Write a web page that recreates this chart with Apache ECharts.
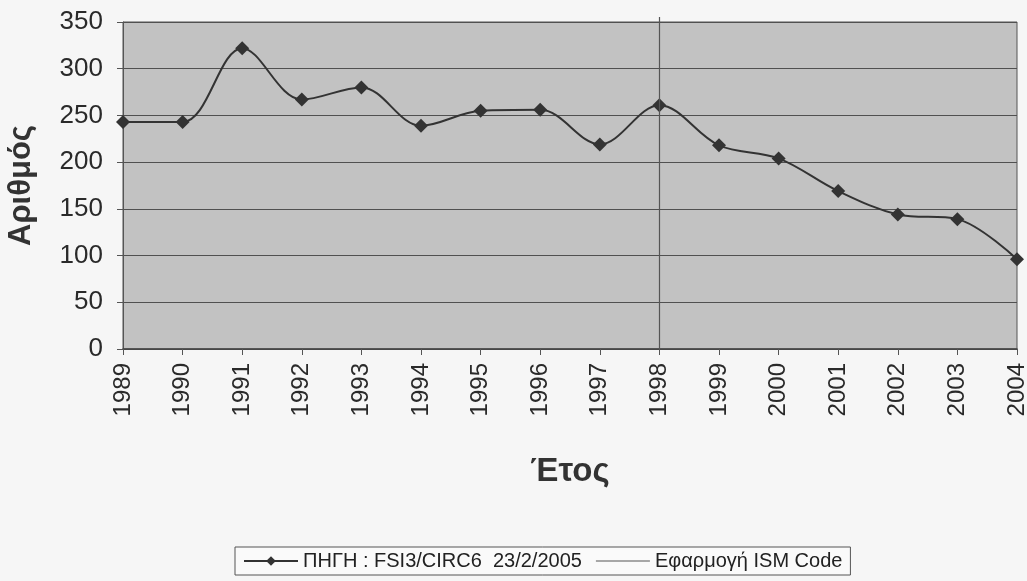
<!DOCTYPE html>
<html><head><meta charset="utf-8">
<script src="https://cdn.jsdelivr.net/npm/echarts@6/dist/echarts.min.js"></script>
<style>html,body{margin:0;padding:0;background:#f6f6f6;}#c{width:1027px;height:581px;}</style>
</head><body><div id="c"></div>
<script>
const years = ['1989','1990','1991','1992','1993','1994','1995','1996','1997','1998','1999','2000','2001','2002','2003','2004'];
const counts = [243, 243, 322, 267, 280, 239, 255, 256, 219, 261, 218, 204, 169, 144, 139, 96];
const ismYear = '1998';
const seriesName = 'ΠΗΓΗ : FSI3/CIRC6  23/2/2005';
const ismName = 'Εφαρμογή ISM Code';

const chart = echarts.init(document.getElementById('c'));
const txt = '#2a2a2a';
const ff = 'Liberation Sans, Arial';
chart.setOption({
  backgroundColor: '#f6f6f6',
  animation: false,
  grid: {left: 123, right: 10, top: 22, bottom: 232, containLabel: false, outerBoundsMode: 'none',
         backgroundColor: '#c2c2c2', show: true, borderColor: '#555', borderWidth: 1},
  xAxis: {
    type: 'category', data: years, boundaryGap: false,
    axisLine: {lineStyle: {color: '#444', width: 1.5}},
    axisTick: {show: true, length: 6, lineStyle: {color: '#555'}},
    axisLabel: {rotate: 90, color: txt, fontFamily: ff, fontSize: 24, margin: 14},
    name: 'Έτος', nameLocation: 'middle', nameGap: 106,
    nameTextStyle: {fontFamily: ff, fontWeight: 'bold', fontSize: 33, color: '#333'}
  },
  yAxis: {
    type: 'value', min: 0, max: 350, interval: 50,
    axisLine: {show: true, lineStyle: {color: '#555'}},
    axisTick: {show: true, length: 6, lineStyle: {color: '#555'}},
    splitLine: {lineStyle: {color: '#505050', width: 1}},
    axisLabel: {color: txt, fontFamily: ff, fontSize: 26, margin: 20},
    name: 'Αριθμός', nameLocation: 'middle', nameGap: 86,
    nameTextStyle: {fontFamily: ff, fontWeight: 'bold', fontSize: 31, color: '#333'}
  },
  legend: {
    bottom: 6, left: 235, itemWidth: 54, itemHeight: 12, itemGap: 14,
    backgroundColor: '#fafafa', borderColor: '#555', borderWidth: 1, borderRadius: 0,
    padding: [4, 8, 4, 8],
    textStyle: {fontFamily: ff, fontSize: 20, color: '#222'},
    data: [{name: seriesName}, {name: ismName, icon: 'path://M0,0 L54,0 L54,1 L0,1 Z'}]
  },
  series: [
    {
      name: seriesName, type: 'line', data: counts, smooth: 0.35,
      symbol: 'diamond', symbolSize: 14,
      lineStyle: {color: '#333', width: 2},
      itemStyle: {color: '#333'}
    },
    {
      name: ismName, type: 'line', data: [],
      lineStyle: {color: '#555', width: 1}, itemStyle: {color: '#555'}, symbol: 'none',
      markLine: {
        symbol: 'none', silent: true, label: {show: false},
        lineStyle: {color: '#555', width: 1.2, type: 'solid'},
        data: [[{xAxis: ismYear, y: 17}, {xAxis: ismYear, yAxis: 0}]]
      }
    }
  ]
});
</script></body></html>
